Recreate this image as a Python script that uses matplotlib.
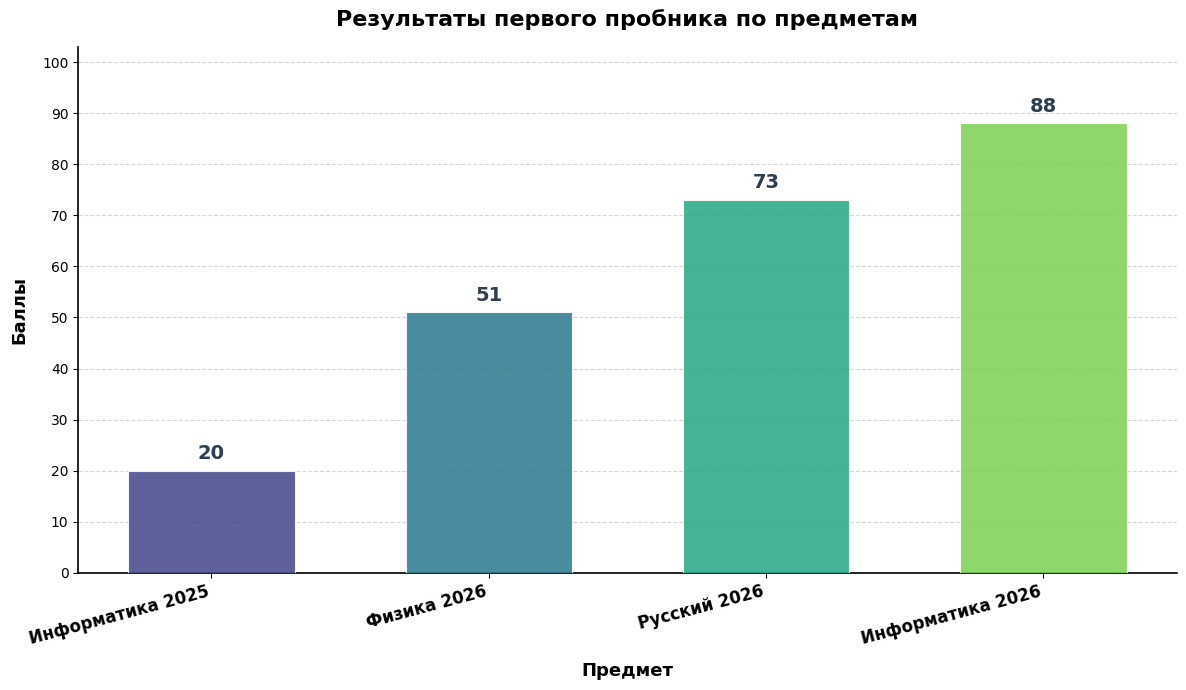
import matplotlib
matplotlib.use("Agg")
import matplotlib.pyplot as plt
import seaborn as sns

subjects = ["Информатика 2025", "Физика 2026", "Русский 2026", "Информатика 2026"]
scores = [20, 51, 73, 88]

colors = sns.color_palette("viridis", len(subjects))

fig, ax = plt.subplots(figsize=(11.86, 6.9), dpi=100)
fig.subplots_adjust(left=0.066, right=0.992, top=0.932, bottom=0.17)

bars = ax.bar(range(len(subjects)), scores, width=0.6, color=colors, alpha=0.85,
              edgecolor="white", linewidth=0.8, zorder=3)

for b, v in zip(bars, scores):
    ax.text(b.get_x() + b.get_width() / 2, v + 1.5, str(v), ha="center", va="bottom",
            fontsize=14, fontweight="bold", color="#2c3e50")

ax.set_xticks(range(len(subjects)))
ax.set_xticklabels(subjects, rotation=15, ha="right", fontsize=12, fontweight="bold")
ax.set_ylim(0, 103)
ax.set_yticks(range(0, 101, 10))
ax.tick_params(axis="y", labelsize=10)
ax.grid(axis="y", linestyle="--", alpha=0.5, zorder=0)

ax.spines["top"].set_visible(False)
ax.spines["right"].set_visible(False)
ax.spines["left"].set_linewidth(1.2)
ax.spines["bottom"].set_linewidth(1.2)

ax.set_title("Результаты первого пробника по предметам", fontsize=16, fontweight="bold", pad=15)
ax.set_xlabel("Предмет", fontsize=13, fontweight="bold", labelpad=10)
ax.set_ylabel("Баллы", fontsize=13, fontweight="bold", labelpad=10)

fig.savefig("out.png", dpi=100)
